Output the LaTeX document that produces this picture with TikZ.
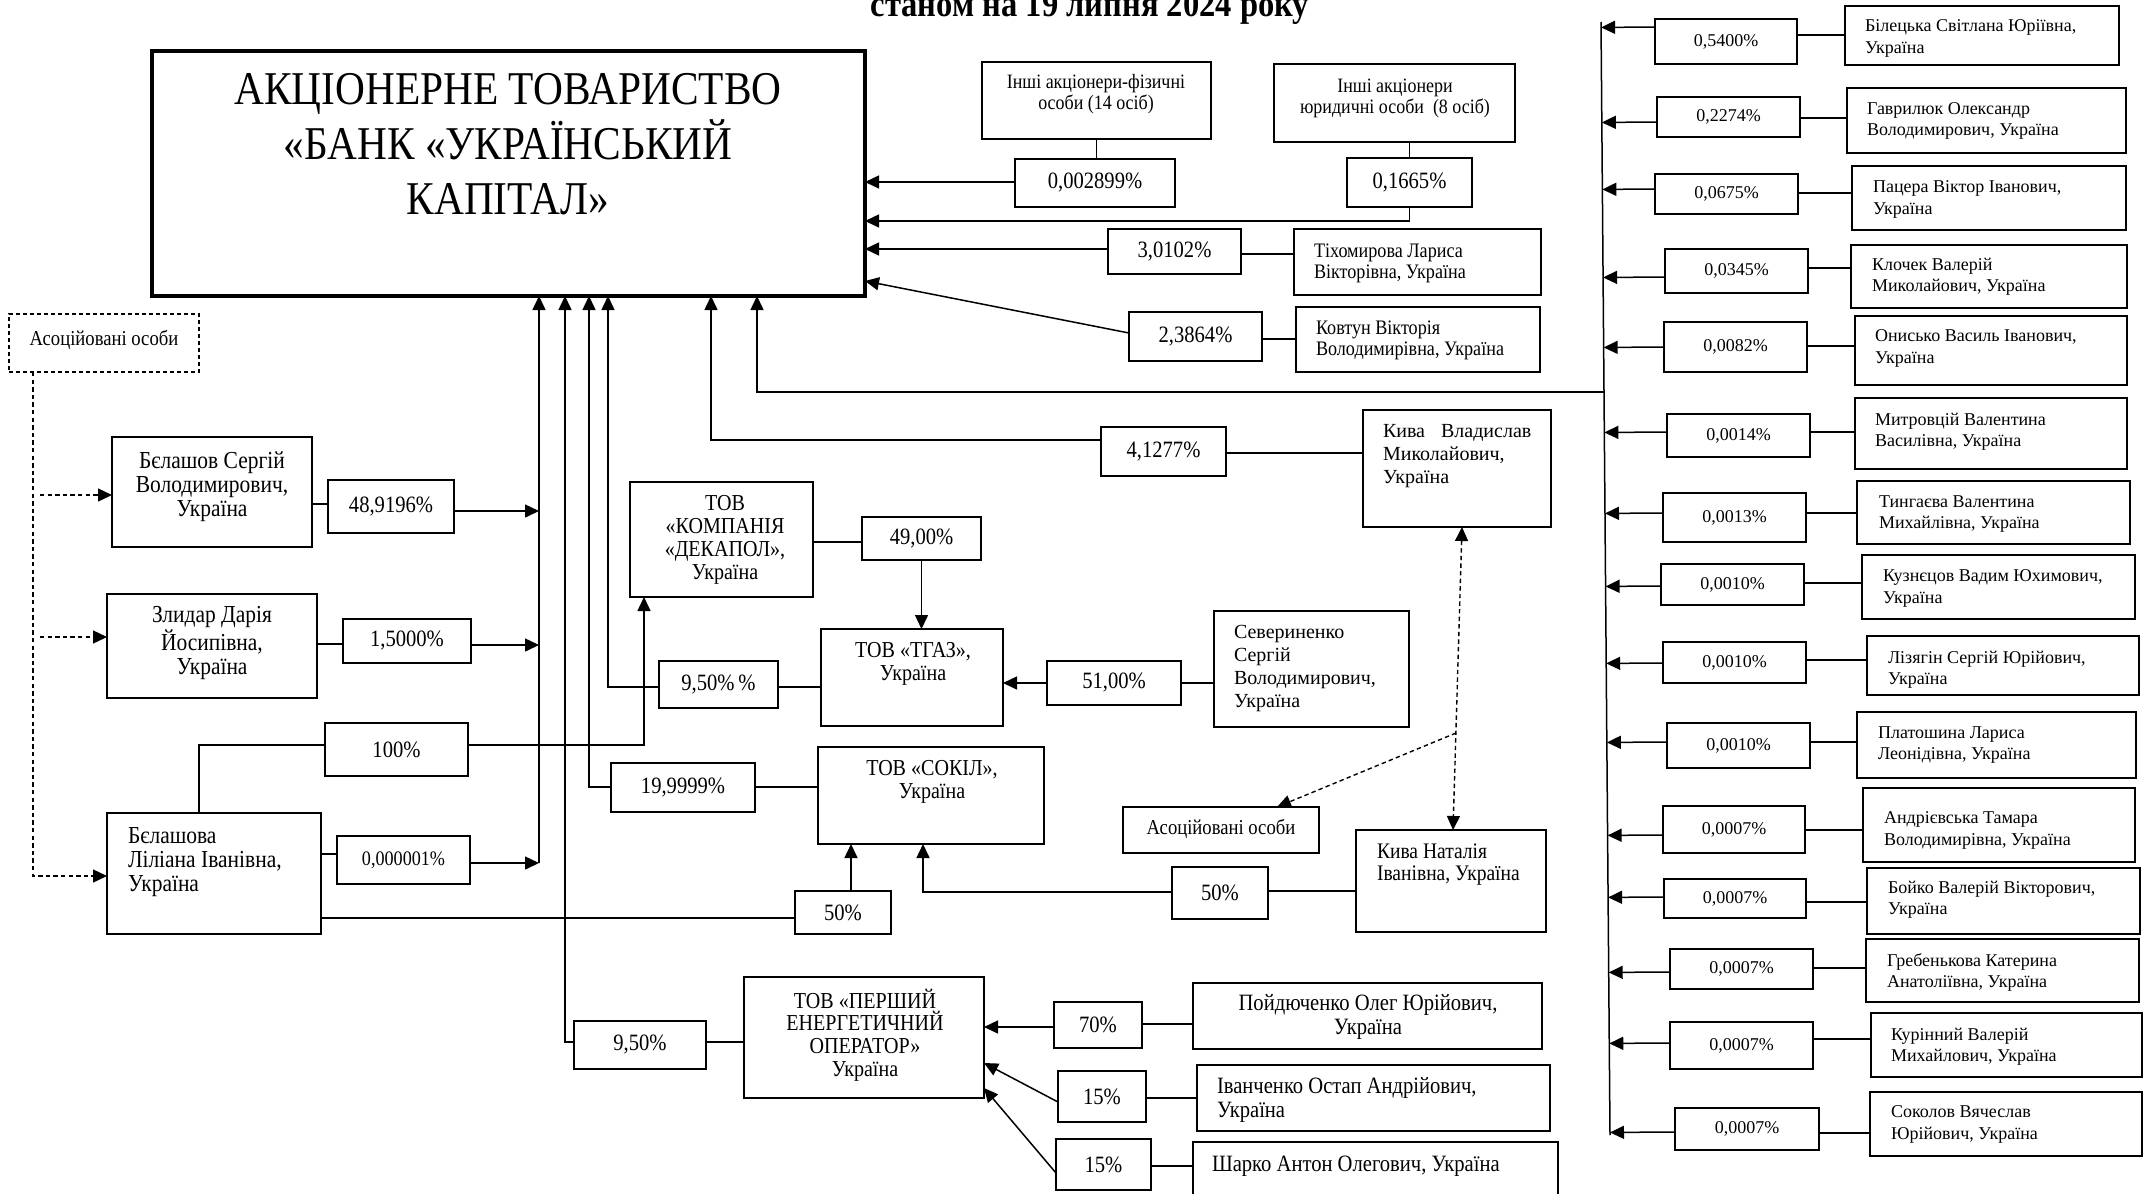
\documentclass[tikz,border=0pt]{standalone}
\usepackage{fontspec}
\setmainfont{Liberation Serif}
\newfontfamily\cnd[FakeStretch=0.88]{Liberation Serif}
\usetikzlibrary{arrows.meta,calc,fit}
\tikzset{
  box/.style={draw,line width=0.75pt,inner sep=0pt,outer sep=0pt,align=center},
  tx/.style={inner sep=0pt,outer sep=0pt,align=center},
  lt/.style={inner sep=0pt,outer sep=0pt,align=left,anchor=west},
  ln/.style={line width=0.75pt},
  arr/.style={line width=0.75pt,-{Triangle[length=7pt,width=6.5pt]}},
  dsh/.style={line width=0.7pt,dash pattern=on 2.2pt off 1.6pt},
  dar/.style={dsh,-{Triangle[length=7pt,width=6.5pt]}},
  fR/.style={font=\fontsize{9}{10.6}\selectfont},
  fRn/.style={font=\fontsize{10}{11.5}\selectfont},
  fP/.style={font=\cnd\fontsize{11.7}{13}\selectfont},
  fPs/.style={font=\cnd\fontsize{10.3}{12}\selectfont},
  fL/.style={font=\cnd\fontsize{12.2}{12}\selectfont},
  fT/.style={font=\cnd\fontsize{11.4}{11.4}\selectfont},
  fM/.style={font=\cnd\fontsize{11.7}{12}\selectfont},
  fS/.style={font=\cnd\fontsize{10.3}{10.5}\selectfont},
  fI/.style={font=\cnd\fontsize{10.2}{10.5}\selectfont},
  fA/.style={font=\cnd\fontsize{10.6}{12}\selectfont},
  fK/.style={font=\cnd\fontsize{11.1}{11}\selectfont},
}
% box from corners, with optional centred text
\newcommand\Bx[4][]{\node[box,fit={#3}] (#2) {};
  \node[tx,#1] (#2t) at (#2.center) {#4};}
\newcommand\rowc[3]{\draw[ln] (p#1.east |- 0,#3) -- (n#1.west |- 0,#3);
  \draw[arr] (p#1.west |- 0,#2) -- ($(T1)!(p#1.west |- 0,#2)!(T2)$);}
\begin{document}
\begin{tikzpicture}[x={(0.5pt,0pt)},y={(0pt,-0.5pt)}]
\useasboundingbox (0,0) rectangle (2150,1193);

% title
\node[anchor=base,inner sep=0pt,font=\cnd\bfseries\fontsize{18.5}{20}\selectfont] (title) at (1090,17) {станом на 19 липня 2024 року};

% main box
\node[box,line width=1.8pt,fit={(152,51) (865,296)}] (main) {};
\node[tx,font=\cnd\fontsize{23.5}{27.5}\selectfont] (maint) at (508,144) {АКЦІОНЕРНЕ ТОВАРИСТВО\\«БАНК «УКРАЇНСЬКИЙ\\КАПІТАЛ»};

% top right of main
\Bx{inf}{(982,62) (1211,139)}{}
\node[tx,fI] (inft2) at (1096,94) {Інші акціонери-фізичні\\особи (14 осіб)};
\Bx[fP]{infp}{(1015,159) (1175,207)}{0,002899\%}
\Bx{inu}{(1274,64) (1515,142)}{}
\node[tx,fI] (inut2) at (1395,98) {Інші акціонери\\юридичні особи\ \ (8 осіб)};
\Bx[fP]{inup}{(1347,158) (1472,207)}{0,1665\%}
\Bx[fP]{tip}{(1108,229) (1241,274)}{3,0102\%}
\Bx{tix}{(1294,229) (1541,295)}{}
\node[lt,fS] (tixt2) at (1314,263) {Тіхомирова Лариса\\Вікторівна, Україна};
\Bx[fP]{kop}{(1129,312) (1262,361)}{2,3864\%}
\Bx{kov}{(1296,307) (1540,372)}{}
\node[lt,fS] (kovt2) at (1316,340) {Ковтун Вікторія\\Володимирівна, Україна};

\draw[ln] (inf.south) -- (inf.south |- infp.north);
\draw[arr] (infp.west |- 0,182) -- (main.east |- 0,182);
\draw[ln] (inup.north) -- (inup.north |- inu.south);
\draw[arr] (inup.south) -- (inup.south |- 0,221) -- (main.east |- 0,221);
\draw[arr] (tip.west |- 0,249) -- (main.east |- 0,249);
\draw[ln] (tip.east |- 0,254) -- (tix.west |- 0,254);
\draw[arr] (kop.west |- 0,333) -- (main.east |- 0,281);
\draw[ln] (kop.east |- 0,339) -- (kov.west |- 0,339);

% left side
\node[box,dash pattern=on 2pt off 1.5pt,fit={(9,314) (199,372)}] (asoc1) {};
\node[tx,fA] (asoc1t) at (104,340) {Асоційовані особи};
\Bx{bel}{(112,437) (312,547)}{}
\node[tx,fL] (belt2) at (212,487) {Бєлашов Сергій\\Володимирович,\\Україна};
\Bx[fP]{belp}{(328,480) (454,533)}{48,9196\%}
\Bx{zly}{(107,594) (317,698)}{}
\node[tx,fL] (zlyt2) at (212,643) {Злидар Дарія\\Йосипівна,\\Україна};
\Bx[fP]{zlyp}{(343,619) (471,663)}{1,5000\%}
\Bx{bela}{(107,813) (321,934)}{}
\node[lt,fL] (belat2) at (128,862) {Бєлашова\\Ліліана Іванівна,\\Україна};
\Bx[fPs]{belap}{(337,836) (470,884)}{0,000001\%}
\Bx[fP]{p100}{(325,723) (468,776)}{100\%}

% middle
\Bx{dek}{(630,482) (813,597)}{}
\node[tx,fT] (dekt2) at (725,540) {ТОВ\\«КОМПАНІЯ\\«ДЕКАПОЛ»,\\Україна};
\Bx[fP]{dekp}{(862,517) (981,560)}{49,00\%}
\Bx{tgaz}{(821,629) (1003,726)}{}
\node[tx,fT] (tgazt2) at (913,664) {ТОВ «ТГАЗ»,\\Україна};
\Bx[fP]{tgp}{(659,661) (778,708)}{9,50\%\,\%}
\Bx[fP]{sevp}{(1047,661) (1181,705)}{51,00\%}
\Bx{sev}{(1214,611) (1409,727)}{}
\node[lt,fRn] (sevt2) at (1234,668) {Севериненко\\Сергій\\Володимирович,\\Україна};
\Bx[fP]{kvp}{(1101,427) (1226,476)}{4,1277\%}
\Bx{kv}{(1363,410) (1551,527)}{}
\node[lt,fRn] (kvt2) at (1383,456) {Кива\hspace{8pt}Владислав\\Миколайович,\\Україна};
\Bx{sok}{(818,747) (1044,844)}{}
\node[tx,fT] (sokt2) at (932,782) {ТОВ «СОКІЛ»,\\Україна};
\Bx[fP]{sokp}{(611,763) (755,812)}{19,9999\%}
\Bx[fP]{s50a}{(795,891) (891,934)}{50\%}
\Bx[fP]{s50b}{(1172,867) (1268,919)}{50\%}
\Bx{asoc2}{(1123,807) (1319,853)}{}
\node[tx,fA] (asoc2t2) at (1221,829) {Асоційовані особи};
\Bx{kn}{(1356,830) (1546,932)}{}
\node[lt,fK] (knt2) at (1377,865) {Кива Наталія\\Іванівна, Україна};
\Bx{pe}{(744,977) (984,1098)}{}
\node[tx,fT] (pet2) at (865,1035) {ТОВ «ПЕРШИЙ\\ЕНЕРГЕТИЧНИЙ\\ОПЕРАТОР»\\Україна};
\Bx[fP]{pep}{(574,1021) (706,1069)}{9,50\%}
\Bx[fP]{p70}{(1054,1002) (1142,1048)}{70\%}
\Bx{poy}{(1193,983) (1542,1049)}{}
\node[tx,fM] (poyt2) at (1368,1017) {Пойдюченко Олег Юрійович,\\Україна};
\Bx[fP]{p15a}{(1058,1071) (1146,1122)}{15\%}
\Bx{iva}{(1197,1065) (1550,1131)}{}
\node[lt,fM] (ivat2) at (1217,1100) {Іванченко Остап Андрійович,\\Україна};
\Bx[fP]{p15b}{(1056,1139) (1151,1190)}{15\%}
\Bx{sha}{(1193,1142) (1558,1225)}{}
\node[lt,fM] (shat2) at (1212,1166) {Шарко Антон Олегович, Україна};

% middle connectors
\draw[arr] (kvp.west |- 0,440) -- (711,440) -- (711,0 |- main.south);
\draw[ln] (kvp.east |- 0,453) -- (kv.west |- 0,453);
\draw[ln] (bel.east |- 0,504) -- (belp.west |- 0,504);
\draw[arr] (belp.east |- 0,511) -- (539,511);
\draw[ln] (zly.east |- 0,644) -- (zlyp.west |- 0,644);
\draw[arr] (zlyp.east |- 0,645) -- (539,645);
\draw[ln] (bela.east |- 0,854) -- (belap.west |- 0,854);
\coordinate (b1) at (539,863);
\draw[arr] (belap.east |- 0,863) -- (b1);
\draw[arr] (b1) -- (b1 |- main.south);
\draw[ln] (bela.north -| 199,0) -- (199,745) -- (p100.west |- 0,745);
\draw[arr] (p100.east |- 0,745) -- (644,745) -- (644,0 |- dek.south);
\draw[ln] (dek.east |- 0,542) -- (dekp.west |- 0,542);
\draw[arr] (dekp.south) -- (dekp.south |- tgaz.north);
\draw[arr] (tgp.west |- 0,687) -- (608,687) -- (608,0 |- main.south);
\draw[ln] (tgp.east |- 0,687) -- (tgaz.west |- 0,687);
\draw[arr] (sevp.west |- 0,683) -- (tgaz.east |- 0,683);
\draw[ln] (sevp.east |- 0,683) -- (sev.west |- 0,683);
\draw[arr] (sokp.west |- 0,787) -- (589,787) -- (589,0 |- main.south);
\draw[ln] (sokp.east |- 0,787) -- (sok.west |- 0,787);
\draw[ln] (bela.east |- 0,918) -- (s50a.west |- 0,918);
\draw[arr] (851,0 |- s50a.north) -- (851,0 |- sok.south);
\draw[ln] (kn.west |- 0,891) -- (s50b.east |- 0,891);
\draw[arr] (s50b.west |- 0,892) -- (923,892) -- (923,0 |- sok.south);
\draw[arr] (pep.west |- 0,1042) -- (565,1042) -- (565,0 |- main.south);
\draw[ln] (pep.east |- 0,1042) -- (pe.west |- 0,1042);
\draw[arr] (p70.west |- 0,1027) -- (pe.east |- 0,1027);
\draw[ln] (p70.east |- 0,1024) -- (poy.west |- 0,1024);
\draw[arr] (p15a.west |- 0,1102) -- (pe.east |- 0,1063);
\draw[ln] (p15a.east |- 0,1098) -- (iva.west |- 0,1098);
\draw[arr] (p15b.west |- 0,1173) -- (pe.east |- 0,1088);
\draw[ln] (p15b.east |- 0,1166) -- (sha.west |- 0,1166);

% dashed
\draw[dar] (33,0 |- asoc1.south) -- (33,876) -- (bela.west |- 0,876);
\draw[dar] (40,495) -- (bel.west |- 0,495);
\draw[dar] (40,637) -- (zly.west |- 0,637);
\draw[dsh,{Triangle[length=7pt,width=6.5pt]}-{Triangle[length=7pt,width=6.5pt]}] (1462,0 |- kv.south) -- (1453,0 |- kn.north);
\coordinate (D) at (1456,733);
\draw[dar] (D) -- (1277,0 |- asoc2.north);

% right column
\coordinate (T1) at (1601,22);
\coordinate (T2) at (1610,1135);
\draw[ln] (T1) -- (T2);
\coordinate (J) at ($(T1)!(1600,392)!(T2)$);
\draw[arr] (J) -- (757,0 |- J) -- (757,0 |- main.south);

\Bx[fR]{p1}{(1655,19) (1797,64)}{0,5400\%}
\Bx{n1}{(1845,6) (2119,65)}{}
\node[lt,fR] (n1t2) at (1865,38.5) {Білецька Світлана Юріївна,\\Україна};
\rowc{1}{27}{35}
\Bx[fR]{p2}{(1657,97) (1800,137)}{0,2274\%}
\Bx{n2}{(1847,88) (2126,153)}{}
\node[lt,fR] (n2t2) at (1867,121) {Гаврилюк Олександр\\Володимирович, Україна};
\rowc{2}{122}{118}
\Bx[fR]{p3}{(1655,174) (1798,214)}{0,0675\%}
\Bx{n3}{(1852,166) (2126,230)}{}
\node[lt,fR] (n3t2) at (1873,199.5) {Пацера Віктор Іванович,\\Україна};
\rowc{3}{189}{193}
\Bx[fR]{p4}{(1665,249) (1808,293)}{0,0345\%}
\Bx{n4}{(1851,245) (2127,308)}{}
\node[lt,fR] (n4t2) at (1872,277) {Клочек Валерій\\Миколайович, Україна};
\rowc{4}{277}{268}
\Bx[fR]{p5}{(1664,322) (1807,372)}{0,0082\%}
\Bx{n5}{(1855,316) (2127,385)}{}
\node[lt,fR] (n5t2) at (1875,348.5) {Онисько Василь Іванович,\\Україна};
\rowc{5}{347}{346}
\Bx[fR]{p6}{(1667,414) (1810,457)}{0,0014\%}
\Bx{n6}{(1855,398) (2127,469)}{}
\node[lt,fR] (n6t2) at (1875,432) {Митровцій Валентина\\Василівна, Україна};
\rowc{6}{432}{432}
\Bx[fR]{p7}{(1663,493) (1806,542)}{0,0013\%}
\Bx{n7}{(1857,481) (2130,544)}{}
\node[lt,fR] (n7t2) at (1879,514) {Тингаєва Валентина\\Михайлівна, Україна};
\rowc{7}{513}{513}
\Bx[fR]{p8}{(1661,564) (1804,605)}{0,0010\%}
\Bx{n8}{(1862,555) (2135,619)}{}
\node[lt,fR] (n8t2) at (1883,588.5) {Кузнєцов Вадим Юхимович,\\Україна};
\rowc{8}{586}{583}
\Bx[fR]{p9}{(1663,642) (1806,683)}{0,0010\%}
\Bx{n9}{(1867,636) (2139,695)}{}
\node[lt,fR] (n9t2) at (1888,670) {Лізягін Сергій Юрійович,\\Україна};
\rowc{9}{663}{660}
\Bx[fR]{p10}{(1667,723) (1810,768)}{0,0010\%}
\Bx{n10}{(1857,712) (2136,778)}{}
\node[lt,fR] (n10t2) at (1878,745) {Платошина Лариса\\Леонідівна, Україна};
\rowc{10}{742}{742}
\Bx[fR]{p11}{(1663,806) (1805,853)}{0,0007\%}
\Bx{n11}{(1863,788) (2135,862)}{}
\node[lt,fR] (n11t2) at (1884,830.5) {Андрієвська Тамара\\Володимирівна, Україна};
\rowc{11}{835}{830}
\Bx[fR]{p12}{(1664,879) (1806,918)}{0,0007\%}
\Bx{n12}{(1867,868) (2140,934)}{}
\node[lt,fR] (n12t2) at (1888,900) {Бойко Валерій Вікторович,\\Україна};
\rowc{12}{897}{902}
\Bx[fR]{p13}{(1670,949) (1813,989)}{0,0007\%}
\Bx{n13}{(1866,939) (2139,1002)}{}
\node[lt,fR] (n13t2) at (1887,972.5) {Гребенькова Катерина\\Анатоліївна, Україна};
\rowc{13}{972}{968}
\Bx[fR]{p14}{(1670,1022) (1813,1069)}{0,0007\%}
\Bx{n14}{(1871,1013) (2142,1077)}{}
\node[lt,fR] (n14t2) at (1891,1046.5) {Курінний Валерій\\Михайлович, Україна};
\rowc{14}{1043}{1039}
\Bx[fR]{p15}{(1675,1108) (1819,1150)}{0,0007\%}
\Bx{n15}{(1870,1092) (2142,1156)}{}
\node[lt,fR] (n15t2) at (1891,1124.5) {Соколов Вячеслав\\Юрійович, Україна};
\rowc{15}{1132}{1133}
\end{tikzpicture}
\end{document}
